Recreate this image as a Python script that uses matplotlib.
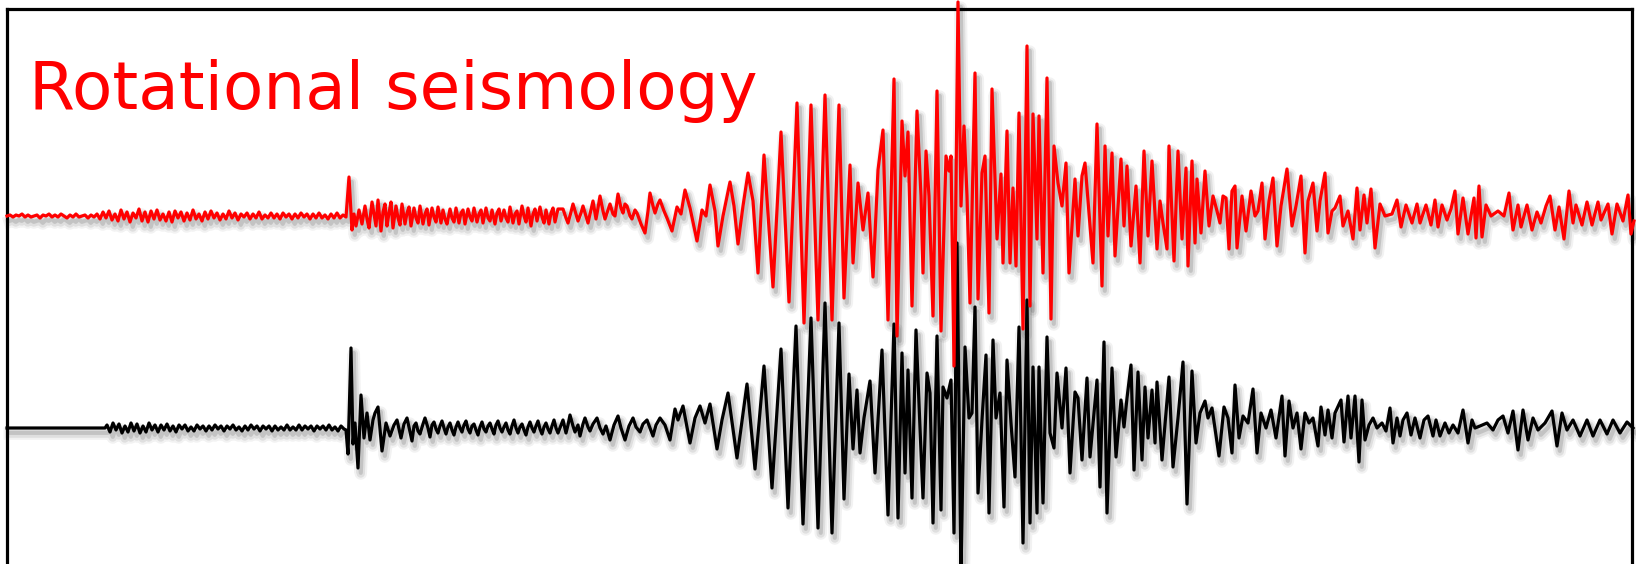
import numpy as np
import matplotlib
matplotlib.use("Agg")
import matplotlib.pyplot as plt
import matplotlib.patheffects as pe

# rotation rate trace (red) - sample index / amplitude at each turning point
red_t = [7, 10, 13, 16, 19, 22, 25, 28, 31, 34, 37, 40, 43, 46, 49, 52, 55, 58, 61, 64,
         67, 70, 73, 76, 79, 82, 85, 88, 91, 94, 97,
         100, 103, 106, 109, 112, 115, 118, 121, 124, 127,
         130, 133, 136, 139, 142, 145, 148, 151, 154, 157,
         160, 163, 166, 169, 172, 175, 178, 181, 184, 187,
         190, 193, 196, 199, 202, 205, 208, 211, 214, 217,
         220, 223, 226, 229, 232, 235, 238, 241, 244, 247,
         250, 253, 256, 259, 262, 265, 268, 271, 274, 277,
         280, 283, 286, 289, 292, 295, 298, 301, 304, 307,
         310, 313, 316, 319, 322, 325, 328, 331, 334, 337,
         340, 343,
         346, 349, 352, 354, 356, 359, 362, 365, 367, 369,
         372, 374, 376, 378, 381, 383, 385, 387, 389, 391,
         393, 396, 398, 400, 402, 405, 407, 409, 411, 414,
         416, 418, 420, 423, 425, 427, 429, 432, 434, 436,
         438, 441, 443, 445, 447, 450, 452, 454, 456, 459,
         461, 463, 465, 468, 470, 472, 474, 477, 479, 481,
         483, 486, 488, 490, 492, 495, 497, 499, 501, 504,
         506, 508, 510, 513, 515, 517, 519, 522, 524, 526,
         528, 531, 533, 535, 537, 540, 542, 544, 546, 549,
         551, 553, 555, 558,
         563, 566, 568, 571, 573, 576, 578, 581, 583, 586,
         588, 591, 593, 596, 598, 600, 603, 605, 608, 610,
         613, 615, 618, 621, 623, 625, 627, 630, 632, 635,
         637, 641, 645, 648, 650, 653, 655, 658, 660, 664,
         667,
         672, 677, 681, 685, 690, 697, 702, 706,
         710, 715, 718, 723, 730, 734, 738, 743, 748, 753,
         758, 764, 773, 781, 789, 797, 804, 811, 818, 825,
         832, 839, 844, 850, 853, 858, 863, 868, 873, 878,
         883, 888, 894, 897, 902, 905, 908, 912, 917, 921,
         923, 926, 929, 933, 937, 941, 946, 949, 951, 954,
         958, 961,
         964, 967, 970, 975, 978, 982, 985, 989, 992, 997,
         1001, 1003, 1007, 1010, 1013, 1016, 1019, 1023, 1027, 1030,
         1033, 1037, 1039, 1043, 1047, 1051, 1054, 1058, 1062, 1066,
         1069, 1075, 1078, 1082, 1085, 1093, 1097, 1102, 1105, 1108,
         1112, 1115, 1121, 1124, 1127, 1131, 1136, 1140, 1144, 1148,
         1152, 1157, 1160, 1163, 1167, 1169, 1174, 1178, 1182, 1186,
         1188, 1192, 1195, 1197, 1201, 1205, 1209, 1213, 1217, 1220,
         1223, 1226, 1229, 1232, 1235, 1237, 1242, 1246, 1251, 1255,
         1258, 1262, 1265, 1269, 1273, 1277, 1281, 1287, 1292, 1296,
         1301, 1305, 1308, 1313, 1317, 1320, 1325, 1328, 1332, 1335,
         1340, 1343, 1348, 1353, 1357, 1360,
         1364, 1367, 1371, 1375, 1380, 1385, 1392, 1397, 1401, 1406,
         1412, 1417, 1420, 1426, 1431, 1435, 1438, 1442, 1447, 1451,
         1455, 1458, 1463, 1468, 1474, 1476, 1479, 1482, 1486, 1491,
         1498, 1504, 1509, 1513, 1518, 1521, 1527, 1532, 1537, 1541,
         1546, 1550, 1555, 1559, 1564, 1569, 1573, 1576, 1582, 1587,
         1592, 1598, 1601, 1608, 1612, 1617, 1623, 1628, 1631, 1634]
red_a = [0, 1, -1, 1, 0, 2, -1, 1, -1, 0, 1, -2, 1, 0, 2, -1, 1, -1, 2, 0,
         -2, 1, -1, 2, -1, 0, 1, -2, 1, -1, 2,
         -3, 4, -2, 5, -4, 2, -5, 6, -3, 4,
         -6, 3, -2, 7, -5, 4, -6, 5, -3, 6,
         -4, 2, -5, 4, -6, 5, -2, 4, -5, 3,
         -4, 6, -3, 2, -5, 4, -3, 5, -2, 3,
         -4, 2, -3, 5, -2, 3, -4, 2, -1, 3,
         -3, 2, -2, 4, -3, 1, -2, 3, -2, 2,
         -3, 3, -1, 2, -3, 2, -2, 3, -1, 2,
         -3, 2, -2, 3, -2, 1, -3, 2, -2, 3,
         -2, 1,
         -1, 39, -14, 2, -10, 6, -8, 10, -3, -12,
         14, 2, -10, 16, -15, 4, 12, -10, 3, 14,
         -12, 10, -2, -9, 12, -8, 3, 9, -10, 8,
         -2, -7, 10, -8, 2, 7, -9, 8, -1, -6,
         9, -7, 6, -3, -8, 7, -2, -6, 8, -7,
         3, 6, -8, 7, -1, -5, 8, -6, 2, 6,
         -7, 8, -2, -5, 6, -8, 3, 7, -5, 6,
         -2, -6, 9, -7, 2, 5, -8, 10, 0, -6,
         8, -10, 2, 7, -5, 9, -1, -7, 6, -8,
         3, 8, -6, 7,
         7, -2, -7, 4, 12, 2, -5, 3, 10, 0,
         -7, 6, 15, -3, 8, 20, 5, -3, 6, 12,
         2, 0, 22, 8, 3, 12, 10, 0, -3, 6,
         3, -8, -17, 5, 23, 10, 3, 12, 16, 5,
         -2,
         -15, 9, 2, 26, 8, -25, 6, 0,
         31, 5, -30, 0, 34, 10, -28, 10, 43, 15,
         -57, 61, -71, 84, -86, 113, -107, 111, -104, 121,
         -104, 111, -82, 51, -47, 33, -14, 23, -61, 46,
         86, -104, 137, -120, 95, 40, 84, -90, 105, 20,
         -57, 65, 20, -100, 125, -115, 60, 45, 60, -150,
         214, 10,
         90, 20, -87, 143, -83, 43, 60, -97, 127, -23,
         42, -47, 85, -47, 28, -50, 103, -113, 170, -90,
         102, -23, 100, -57, 138, -103, 70, 33, 10, 53,
         -57, 37, -20, 40, 53, -47, 92, -70, 70, -20,
         63, -40, 57, -10, 50, -30, 30, -47, 65, -20,
         55, -33, 15, -7, -33, 70, -45, 65, -23, 48,
         -50, 55, -27, 37, -17, 45, -10, 20, 5, -7,
         20, 18, -33, 25, 30, -32, 20, -15, 25, 0,
         5, 33, -23, 15, 38, -30, 10, 47, -10, 10,
         40, -37, 15, 33, -15, 15, 43, -17, 5, 8,
         20, -10, 5, -23, 28, -14,
         21, -7, 27, -32, 12, 0, 2, 16, -11, 11,
         -7, 12, -7, 11, -9, 16, -11, 11, -4, 7,
         25, -18, 18, -18, 18, -22, 30, -21, 11, 0,
         5, 0, 23, -14, 11, -11, 11, -14, 4, -7,
         10, 20, -14, 9, -23, 25, -7, 11, -9, 14,
         -9, 14, -4, 12, -18, 12, -5, 21, -18, -5]

# translational trace (black)
blk_t = [7, 105,
         107, 110, 113, 116, 119, 122, 125, 128, 131, 134,
         137, 140, 143, 146, 149, 152, 155, 158, 161, 164,
         167, 170, 173, 176, 179, 182, 185, 188, 191, 194,
         197, 200, 203, 206, 209, 212, 215, 218, 221, 224,
         227, 230, 233, 236, 239, 242, 245, 248, 251, 254,
         257, 260, 263, 266, 269, 272, 275, 278, 281, 284,
         287, 290, 293, 296, 299, 302, 305, 308, 311, 314,
         317, 320, 323, 326, 329, 332, 335, 338, 341, 344,
         346, 348, 351, 353, 355, 358, 361, 364, 367, 370,
         373, 375, 378, 382, 386, 390, 394, 397, 401, 404,
         407, 410, 412, 414, 416, 418, 420, 423, 425, 428,
         430, 432, 434, 436, 438, 440, 442, 444, 446, 448,
         450, 452, 454, 456, 458, 460, 462, 464, 466, 468,
         470, 472, 474, 476, 478, 480, 482, 484, 486, 488,
         490, 492, 494, 496, 498, 500, 502, 504, 506, 508,
         510, 512, 514, 516, 518, 520, 522, 524, 526, 528,
         530, 532, 534, 536, 538, 540, 542, 544, 546, 548,
         550, 552, 554, 556, 558,
         563, 566, 568, 570, 573, 575, 578, 580, 583, 585,
         588, 590, 593, 597, 600, 603, 606, 610, 614, 618,
         621, 625, 629, 633, 636, 640, 643, 647, 650, 653,
         656, 660, 665, 670, 675,
         678, 683, 690, 695, 700, 705, 710, 717, 722, 728,
         737, 747, 755, 764, 772, 781, 788, 796, 803, 811,
         818, 825, 832, 839, 844, 849, 853, 857, 860, 864,
         870, 875, 882, 888, 894, 898, 902, 905, 908, 912,
         916, 920, 923, 927, 930, 933, 937, 941, 943, 947,
         951, 954, 957, 961, 965, 969, 972, 975, 978, 982,
         986, 989, 993, 996, 1000, 1004, 1007, 1011, 1015, 1019,
         1023, 1027, 1030, 1033, 1037, 1039, 1043, 1047, 1050, 1054,
         1057, 1062, 1066, 1070, 1075, 1078, 1082, 1087, 1090, 1097,
         1100, 1104, 1107, 1112, 1116, 1121, 1124, 1127, 1131, 1134,
         1138, 1142, 1145, 1148, 1152, 1155, 1157, 1162, 1166, 1169,
         1173, 1178, 1183, 1187, 1192, 1196, 1200, 1205, 1208, 1212,
         1219, 1224, 1228, 1232, 1235, 1239, 1243, 1248, 1253, 1257,
         1261, 1266, 1271, 1276, 1282, 1285, 1289, 1293, 1297, 1301,
         1305, 1309, 1313, 1318, 1321, 1325, 1328, 1332, 1335, 1341,
         1344, 1348, 1351, 1355, 1359, 1362, 1365, 1369, 1373, 1377,
         1382, 1386, 1390, 1393, 1397, 1400, 1403, 1407, 1411, 1415,
         1420, 1424, 1428, 1433, 1436, 1440, 1445, 1449, 1453, 1458,
         1463, 1468, 1472, 1475, 1480, 1487, 1493, 1498, 1503, 1508,
         1513, 1518, 1523, 1528, 1533, 1538, 1545, 1552, 1557, 1562,
         1567, 1573, 1580, 1587, 1593, 1600, 1607, 1613, 1620, 1627,
         1633]
blk_a = [0, 0,
         3, -4, 5, -2, 4, -5, 2, -4, 5, -3,
         4, -5, 2, -4, 5, -2, 3, -4, 3, -2,
         4, -3, 2, -4, 3, -1, 3, -3, 1, -3,
         3, -1, 2, -3, 2, -2, 3, -1, 2, -3,
         2, -1, 3, -2, 1, -3, 2, -2, 3, -1,
         2, -3, 2, -1, 2, -3, 2, -2, 1, -2,
         3, -2, 1, -2, 3, -2, 2, -1, 2, -3,
         2, -1, 2, -2, 3, -2, 1, -3, 2, -1,
         -2, -26, 80, -16, 5, -40, 33, -10, 15, -12,
         8, 15, 21, -23, 5, -8, 3, 8, -10, 4,
         10, -4, -13, 2, 5, -3, -6, 4, 10, 0,
         -9, 3, 6, -1, -5, 2, 7, 0, -6, 1,
         5, -2, -7, 1, 6, 0, -4, 3, 7, -1,
         -5, 2, 4, -2, -7, 1, 6, -1, -4, 2,
         5, -1, -6, 3, 7, 0, -4, 1, 5, -2,
         -6, 2, 8, 0, -5, 1, 4, -2, -7, 1,
         6, 0, -4, 2, 7, -1, -6, 1, 5, -1,
         -5, 2, 8, 0, -5,
         8, -5, 3, 13, 2, -4, 3, -8, 4, 10,
         1, -3, 4, 10, 0, -6, 2, -12, 3, 12,
         0, -12, 2, 10, 1, -4, 4, 8, 0, -8,
         3, 10, 3, -12, 19,
         8, 22, -15, 10, 22, 5, 24, -21, 8, 35,
         -30, 44, -41, 62, -60, 79, -80, 102, -96, 110,
         -100, 125, -105, 105, -71, 54, -21, 38, -25, 10,
         47, -45, 78, -87, 104, -90, 75, -45, 58, -70,
         98, 0, -70, 55, 35, -95, 92, -82, 41, 30,
         48, -105, 185, -145, 81, 10, 15, 121, -65, 8,
         73, -85, 88, 10, 35, -79, 68, 5, -49, 101,
         -115, 128, -95, 61, -85, 61, -75, 91, -5, -20,
         55, 0, 60, -45, 36, 30, -32, 50, -29, 48,
         -59, 86, -85, 60, -29, 28, 1, 30, 63, -42,
         56, -32, 41, -10, 38, -15, 46, -32, 15, 51,
         -39, 10, 66, -76, 57, -15, 15, 27, 10, 20,
         -28, 21, 10, -25, 43, -10, 12, 5, 39, -25,
         15, 0, 18, -10, 32, -28, 27, 0, 15, -21,
         15, 5, 10, -18, 21, -7, 18, -10, 15, 28,
         -14, 32, -10, 32, -34, 28, -12, 3, 10, 0,
         5, -3, 20, -15, 10, -8, 8, 15, -7, 10,
         -10, 8, 12, -8, 8, -8, 5, -5, 3, -5,
         18, -15, 8, 0, 2, 5, -2, 8, 12, -5,
         17, -22, 18, -12, 10, -2, 5, 17, -18, 15,
         -2, 8, -8, 8, -8, 8, -6, 8, -5, 6,
         0]

assert len(red_t) == len(red_a) and len(blk_t) == len(blk_a)

title = "Rotational seismology"

W, H = 1636, 564
fig = plt.figure(figsize=(W / 100, H / 100), dpi=100)
fig.patch.set_facecolor("white")

# frame: left/top/right border, open at the bottom
ax = fig.add_axes([7 / W, 0, (1632 - 7) / W, 1 - 9 / H])
ax.set_xlim(7, 1632)
ax.set_ylim(0, H - 9)
for side in ["left", "top", "right"]:
    ax.spines[side].set_linewidth(2.3)
    ax.spines[side].set_color("black")
ax.spines["bottom"].set_visible(False)
ax.set_xticks([])
ax.set_yticks([])

red_off = H - 216
blk_off = H - 428

shadow = [pe.SimpleLineShadow(offset=(2, -4), shadow_color="black", alpha=0.05, linewidth=9),
          pe.SimpleLineShadow(offset=(2, -4), shadow_color="black", alpha=0.08, linewidth=6),
          pe.SimpleLineShadow(offset=(2, -3.5), shadow_color="black", alpha=0.12, linewidth=3),
          pe.Normal()]

ax.plot(blk_t, np.array(blk_a) + blk_off, color="black", lw=2.3,
        solid_joinstyle="round", clip_on=False, path_effects=shadow, zorder=3)
ax.plot(red_t, np.array(red_a) + red_off, color="#ff0000", lw=2.3,
        solid_joinstyle="round", clip_on=False, path_effects=shadow, zorder=4)

fig.text(29 / W, 1 - 109 / H, title, color="#ff0000", fontsize=47.5,
         family="DejaVu Sans", ha="left", va="baseline")

fig.savefig("out.png", dpi=100, facecolor="white")
